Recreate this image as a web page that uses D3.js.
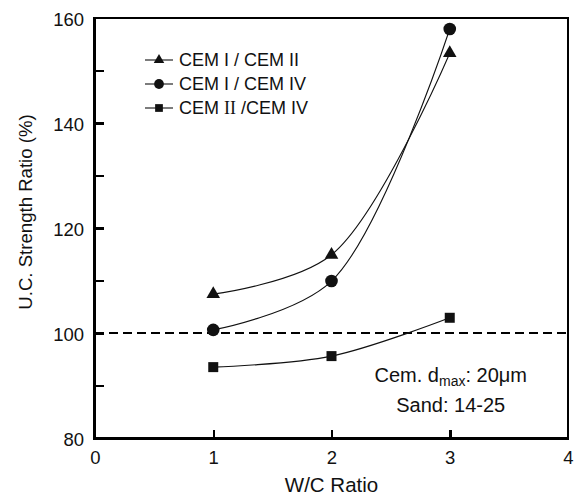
<!DOCTYPE html>
<html><head><meta charset="utf-8">
<script src="https://cdn.jsdelivr.net/npm/d3@7"></script>
<style>body{margin:0;background:#fff}svg{display:block}text{font-family:Arial,"Liberation Sans",Helvetica,sans-serif;fill:#111}</style>
</head><body>
<script>
const wcRatio = [1, 2, 3];
const seriesNames = ["CEM I / CEM II", "CEM I / CEM IV", "CEM II /CEM IV"];
const cem1cem2 = [107.4, 114.9, 153.3];
const cem1cem4 = [100.6, 109.9, 157.9];
const cem2cem4 = [93.5, 95.6, 102.9];
const xTicks = [0, 1, 2, 3, 4];
const yTicks = [80, 100, 120, 140, 160];
const yMinor = [90, 110, 130, 150];
const refLine = 100;

const W = 577, H = 497;
const m = {l: 95, r: 9, t: 18, b: 59};
const svg = d3.select("body").append("svg").attr("width", W).attr("height", H);
const x = d3.scaleLinear().domain([0, 4]).range([m.l, W - m.r]);
const y = d3.scaleLinear().domain([80, 160]).range([H - m.b, m.t]);

// axes (labels + ticks) via d3.axis
const gx = svg.append("g").attr("transform", `translate(0,${y(80)})`)
  .call(d3.axisBottom(x).tickValues(xTicks).tickSize(-8).tickPadding(13).tickFormat(d3.format("d")));
const gy = svg.append("g").attr("transform", `translate(${x(0)},0)`)
  .call(d3.axisLeft(y).tickValues(yTicks).tickSize(-9).tickPadding(11).tickFormat(d3.format("d")));
const gm = svg.append("g").attr("transform", `translate(${x(0)},0)`)
  .call(d3.axisLeft(y).tickValues(yMinor).tickSize(-9).tickFormat(""));
[gx, gy, gm].forEach(g => {
  g.select(".domain").remove();
  g.selectAll(".tick line").attr("stroke","#000").attr("stroke-width",2.5).attr("shape-rendering","crispEdges");
  g.selectAll(".tick text").attr("font-size",18.5).attr("fill","#111");
});
gx.selectAll(".tick").filter(d => d === 0 || d === 4).select("line").remove();
gy.selectAll(".tick").filter(d => d === 80 || d === 160).select("line").remove();
gy.selectAll(".tick text").attr("dy","0.4em");
gx.selectAll(".tick text").attr("dy","0.72em");

// frame as filled rects
const x0 = Math.round(x(0)), x4 = Math.round(x(4)), yT = Math.round(y(160)), yB = Math.round(y(80));
const fr = svg.append("g").attr("fill","#000");
fr.append("rect").attr("x", x0-2).attr("y", yT-1).attr("width", x4-x0+3).attr("height", 2);
fr.append("rect").attr("x", x4-1).attr("y", yT-1).attr("width", 2).attr("height", yB-yT+2);
fr.append("rect").attr("x", x0-2).attr("y", yT-1).attr("width", 3).attr("height", yB-yT+3);
fr.append("rect").attr("x", x0-2).attr("y", yB-1).attr("width", x4-x0+3).attr("height", 3);

// reference dashed line
svg.append("line").attr("x1", x(0)).attr("x2", x(4)).attr("y1", y(refLine)).attr("y2", y(refLine))
  .attr("stroke","#000").attr("stroke-width",2).attr("stroke-dasharray","9,5");

const series = [
  {name: seriesNames[0], vals: cem1cem2, sym: d3.symbolTriangle, size: 80},
  {name: seriesNames[1], vals: cem1cem4, sym: d3.symbolCircle, size: 125},
  {name: seriesNames[2], vals: cem2cem4, sym: d3.symbolSquare, size: 100}
];
const line = d3.line().x((d,i) => x(wcRatio[i])).y(d => y(d)).curve(d3.curveCatmullRom.alpha(0.5));
series.forEach(s => {
  svg.append("path").attr("d", line(s.vals)).attr("fill","none").attr("stroke","#111").attr("stroke-width",1.1);
  svg.selectAll(null).data(s.vals).join("path")
    .attr("d", d3.symbol().type(s.sym).size(s.size))
    .attr("transform", (d,i) => `translate(${x(wcRatio[i])},${y(d)})`)
    .attr("fill","#111");
});

// legend
const legY = [60, 84, 108];
series.forEach((s, i) => {
  const g = svg.append("g").attr("transform", `translate(145,${legY[i]})`);
  g.append("line").attr("x1",0).attr("x2",28).attr("stroke","#111").attr("stroke-width",1.1);
  g.append("path").attr("d", d3.symbol().type(s.sym).size(s.size*0.6)).attr("transform","translate(14,0)").attr("fill","#111");
  const t = g.append("text").attr("x",34).attr("dy","0.36em").attr("font-size",18);
  if (i === 2) {
    t.append("tspan").text("CEM ");
    t.append("tspan").attr("font-family","'Liberation Serif','DejaVu Serif',serif").text("II");
    t.append("tspan").text(" /CEM IV");
  } else t.text(s.name);
});

// annotation
const ann = svg.append("text").attr("x", x(3)+1).attr("y", 382).attr("text-anchor","middle").attr("font-size",20);
ann.append("tspan").text("Cem. d");
ann.append("tspan").attr("font-size",14).attr("dy",4).text("max");
ann.append("tspan").attr("dy",-4).text(": 20\u03bcm");
svg.append("text").attr("x", x(3)+1).attr("y", 412).attr("text-anchor","middle").attr("font-size",20).text("Sand: 14-25");

// axis labels
svg.append("text").attr("x", (x(0)+x(4))/2).attr("y", 492).attr("text-anchor","middle").attr("font-size",20.5).text("W/C Ratio");
svg.append("text").attr("transform", `translate(32,212) rotate(-90)`).attr("text-anchor","middle").attr("font-size",18.6).text("U.C. Strength Ratio (%)");
</script>
</body></html>
